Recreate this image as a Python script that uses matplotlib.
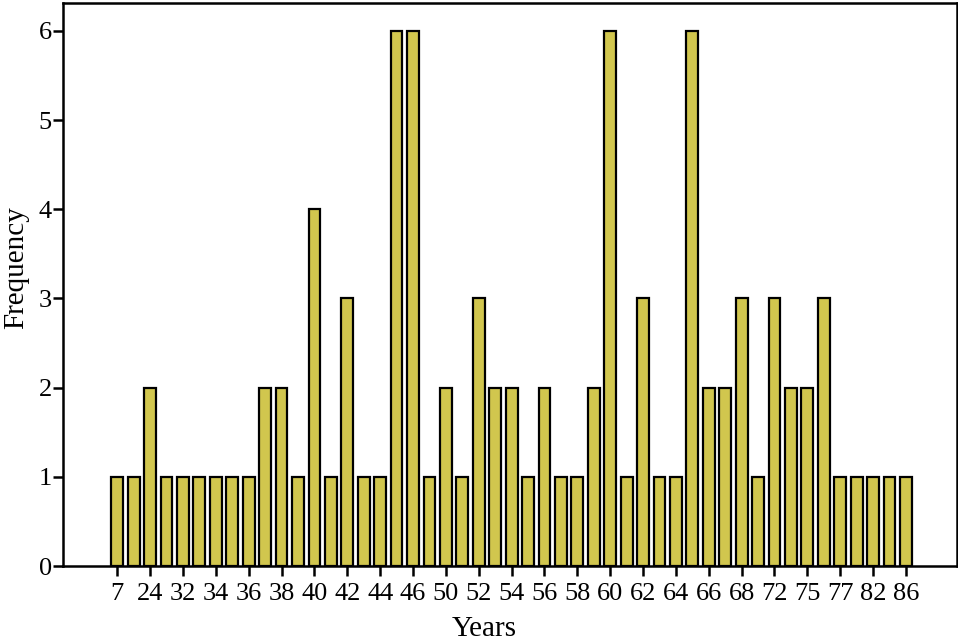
import numpy as np
import matplotlib.pyplot as plt

plt.rcParams['font.family'] = ['Liberation Serif', 'DejaVu Serif']

# frequency of each age (49 bars), labels shown on every other bar
freq = [1, 1, 2, 1, 1, 1, 1, 1, 1, 2, 2, 1, 4, 1, 3, 1, 1, 6, 6, 1,
        2, 1, 3, 2, 2, 1, 2, 1, 1, 2, 6, 1, 3, 1, 1, 6, 2, 2, 3, 1,
        3, 2, 2, 3, 1, 1, 1, 1, 1]
tick_labels = ['7', '24', '32', '34', '36', '38', '40', '42', '44', '46',
               '50', '52', '54', '56', '58', '60', '62', '64', '66', '68',
               '72', '75', '77', '82', '86']

fig = plt.figure(figsize=(9.58, 6.40), dpi=100)
ax = fig.add_axes([0.0658, 0.1156, 0.933, 0.8794])

x = np.arange(len(freq))
ax.bar(x, freq, width=0.72, color='#d1c64e', edgecolor='black', linewidth=1.6)

ax.set_xlim(-3.3, 51.1)
ax.set_ylim(0, 6.31)
ax.set_xticks(x[::2])
ax.set_xticklabels(tick_labels)
ax.set_yticks(range(7))

ax.tick_params(axis='both', labelsize=19, width=1.8, length=7, direction='out')
ax.tick_params(axis='x', pad=5)
ax.tick_params(axis='y', pad=1)
for s in ax.spines.values():
    s.set_linewidth(1.8)

ax.set_xlabel('Years', fontsize=21)
ax.set_ylabel('Frequency', fontsize=21)
ax.xaxis.set_label_coords(0.471, -0.088)
ax.yaxis.set_label_coords(-0.038, 0.531)

fig.savefig('out.png', dpi=100)
plt.close()
